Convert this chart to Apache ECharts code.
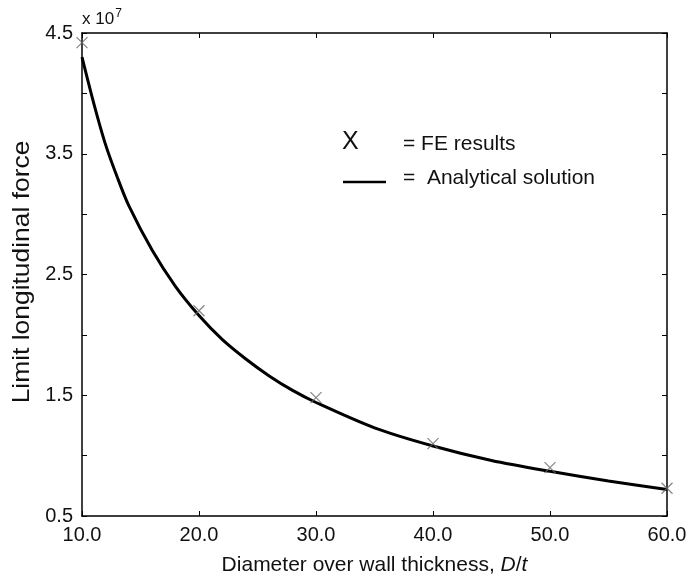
<!DOCTYPE html>
<html><head><meta charset="utf-8">
<script src="https://cdn.jsdelivr.net/npm/echarts@6/dist/echarts.min.js"></script>
<style>html,body{margin:0;padding:0;background:#fff}#c{width:693px;height:580px}</style>
</head><body><div id="c"></div>
<script>
// Values in units of 10^7
var curveX = [10, 11, 12, 13, 14, 16, 18, 20, 22, 24, 26, 28, 30, 35, 40, 45, 50, 55, 60];
var curveY = [4.30, 3.92, 3.58, 3.31, 3.07, 2.70, 2.40, 2.16, 1.96, 1.80, 1.66, 1.54, 1.44, 1.23, 1.08, 0.96, 0.87, 0.79, 0.72];
var feX = [10, 20, 30, 40, 50, 60];
var feY = [4.42, 2.20, 1.48, 1.10, 0.90, 0.73];
var xTicks = [10, 20, 30, 40, 50, 60];
var yTickLabels = [0.5, 1.5, 2.5, 3.5, 4.5];

var font = 'Liberation Sans, Arial, sans-serif';
var chart = echarts.init(document.getElementById('c'));
var axisLine = {show: true, lineStyle: {color: '#000', width: 1.5}};
var tick = {show: true, inside: true, length: 5, lineStyle: {color: '#000', width: 1}};
chart.setOption({
  animation: false,
  backgroundColor: '#fff',
  grid: {left: 82, right: 26, top: 33, bottom: 64, containLabel: false, outerBoundsMode: 'none'},
  xAxis: [{
    type: 'value', min: 10, max: 60, interval: 10, position: 'bottom',
    axisLine: axisLine, axisTick: tick, splitLine: {show: false},
    axisLabel: {color: '#111', fontSize: 20, fontFamily: font, margin: 9,
      formatter: function (v) { return xTicks.indexOf(v) >= 0 ? v.toFixed(1) : ''; }},
    name: '{a|Diameter over wall thickness, }{b|D}{a|/}{b|t}', nameLocation: 'middle', nameGap: 39,
    nameTextStyle: {rich: {a: {fontSize: 21, fontFamily: font, color: '#111'}, b: {fontSize: 21, fontFamily: font, color: '#111', fontStyle: 'italic'}}}
  }, {
    type: 'value', min: 10, max: 60, interval: 10, position: 'top',
    axisLine: axisLine, axisTick: tick, splitLine: {show: false}, axisLabel: {show: false}
  }],
  yAxis: [{
    type: 'value', min: 0.5, max: 4.5, interval: 0.5, position: 'left',
    axisLine: axisLine, axisTick: tick, splitLine: {show: false},
    axisLabel: {color: '#111', fontSize: 20, fontFamily: font, margin: 9,
      formatter: function (v) {
        for (var i = 0; i < yTickLabels.length; i++) if (Math.abs(yTickLabels[i] - v) < 1e-6) return v.toFixed(1);
        return '';
      }}
  }, {
    type: 'value', min: 0.5, max: 4.5, interval: 0.5, position: 'right',
    axisLine: axisLine, axisTick: tick, splitLine: {show: false}, axisLabel: {show: false}
  }],
  series: [{
    type: 'line', xAxisIndex: 0, yAxisIndex: 0,
    data: curveX.map(function (x, i) { return [x, curveY[i]]; }),
    showSymbol: false, smooth: 0.3, lineStyle: {color: '#000', width: 3}, z: 2
  }, {
    type: 'scatter', xAxisIndex: 0, yAxisIndex: 0,
    data: feX.map(function (x, i) { return [x, feY[i]]; }),
    symbol: 'path://M0,0L10,10M10,0L0,10', symbolSize: 11,
    itemStyle: {color: 'none', borderColor: '#666', borderWidth: 1.2}, z: 3
  }],
  graphic: [
    {type: 'text', x: 22, y: 272, rotation: Math.PI / 2, scaleX: 1.1,
      style: {text: 'Limit longitudinal force', fontSize: 24, fontFamily: font, fill: '#111', align: 'center', verticalAlign: 'middle'}},
    {type: 'text', left: 82, top: 8, style: {text: '{a|x 10}{s|7}', rich: {a: {fontSize: 17, fontFamily: font, fill: '#111', verticalAlign: 'bottom', lineHeight: 20}, s: {fontSize: 12, fontFamily: font, fill: '#111', verticalAlign: 'top', padding: [0, 0, 8, 1]}}}},
    {type: 'text', left: 342, top: 130, style: {text: 'X', fontSize: 25, fontFamily: font, fill: '#111'}},
    {type: 'text', left: 403, top: 134, style: {text: '= FE results', fontSize: 21, fontFamily: font, fill: '#111'}},
    {type: 'line', shape: {x1: 343, y1: 182, x2: 386, y2: 182}, style: {stroke: '#000', lineWidth: 2.5}},
    {type: 'text', left: 403, top: 168, style: {text: '=  Analytical solution', fontSize: 21, fontFamily: font, fill: '#111'}}
  ]
});
</script></body></html>
